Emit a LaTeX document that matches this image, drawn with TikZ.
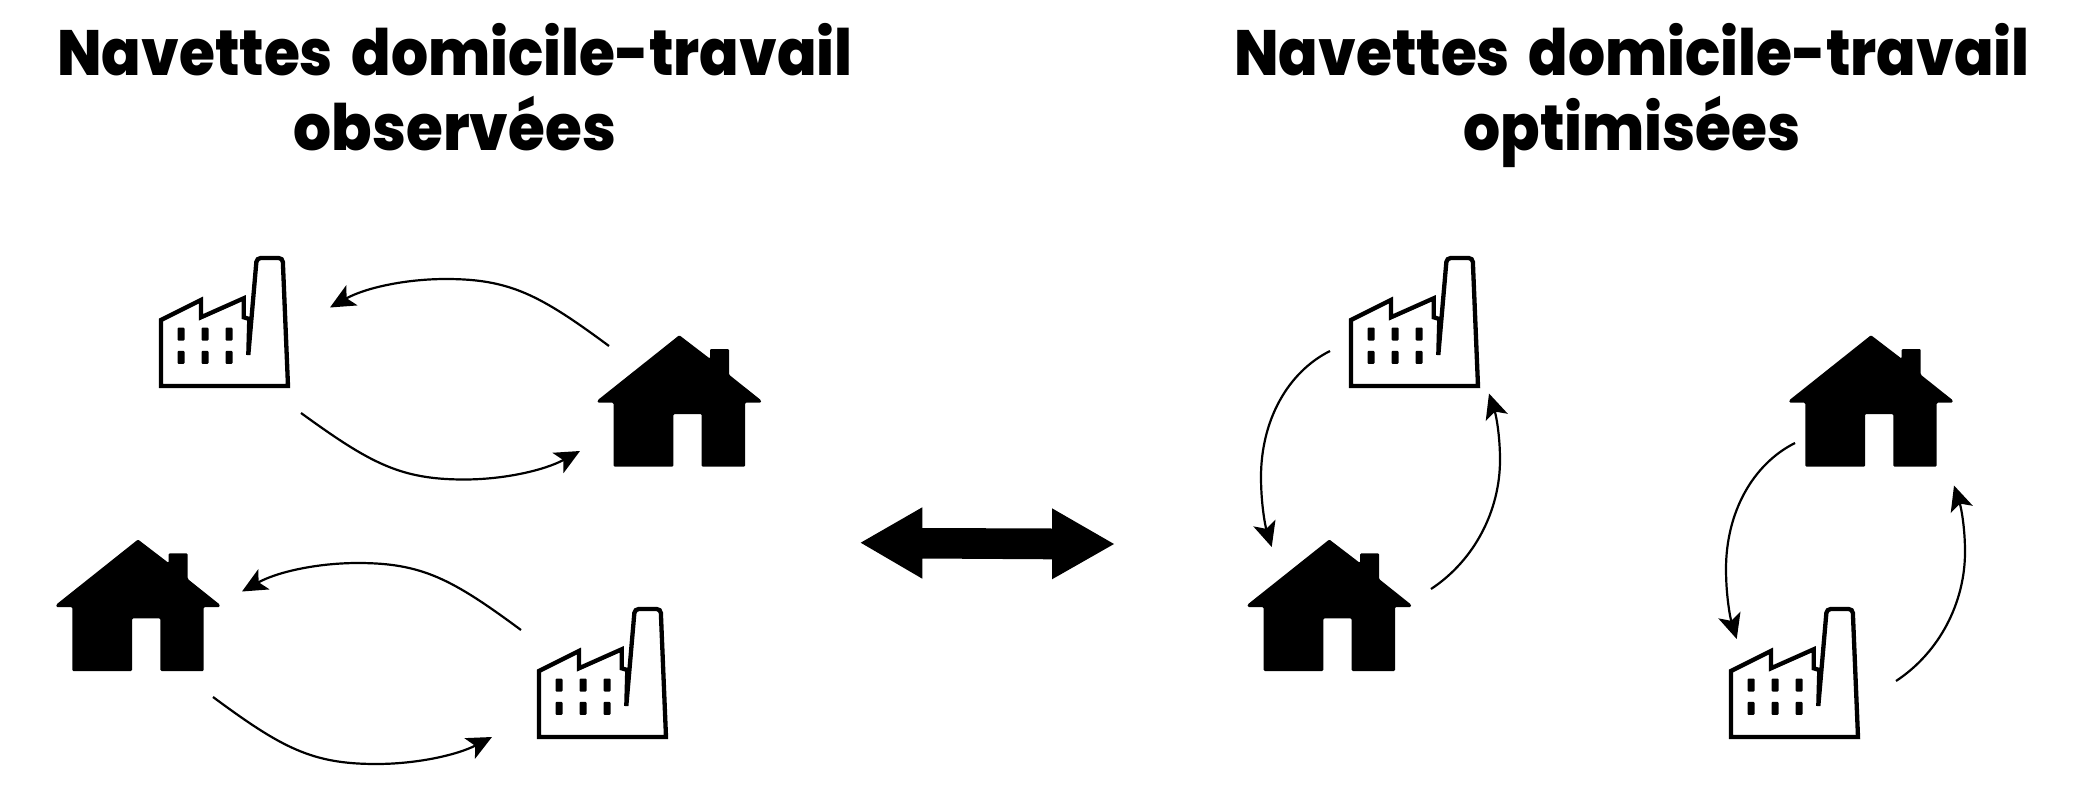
\documentclass[tikz,border=0pt]{standalone}
\usepackage{fontspec}
\setmainfont{Poppins}[BoldFont={Poppins ExtraBold},BoldFeatures={FakeStretch=0.91,WordSpace=1.7}]
\usetikzlibrary{arrows.meta}
\tikzset{
  titletext/.style={font=\fontsize{64}{75}\selectfont\bfseries, align=center, inner sep=0pt, text=black, anchor=south},
  flow/.style={draw=black, line width=2.2pt, -{Stealth[length=25pt,width=23pt,inset=6pt]}},
  pt/.style={inner sep=0pt, minimum size=0pt},
  housefill/.style={fill=black, rounded corners=1.2pt},
  factoryline/.style={draw=black, line width=4.3pt, fill=white, line join=miter},
  windowfill/.style={fill=black, rounded corners=1pt},
}
\newcommand{\drawhouse}[3]{%
  \node[pt] (#3) at (#1,#2) {};
  \begin{scope}[shift={(#1,#2)}]
    \fill[housefill] (0,-131.5) -- (30.7,-108) -- (30.7,-117.7) -- (49.7,-117.7) -- (49.7,-92) -- (81.7,-66.5) -- (81.7,-64) -- (65.7,-64) -- (65.7,0) -- (22.4,0) -- (22.4,-52.7) -- (-6,-52.7) -- (-6,0) -- (-65.7,0) -- (-65.7,-64) -- (-81.7,-64) -- (-81.7,-66.5) -- cycle;
  \end{scope}}
\newcommand{\drawfactory}[3]{%
  \node[pt] (#3) at (#1,#2) {};
  \begin{scope}[shift={(#1,#2)}]
    \draw[factoryline] (0,-66) -- (40,-86) -- (40,-68.7) -- (82.7,-87.7) -- (82.7,-68.7) -- (88.3,-67) -- (87.3,-31)
      [rounded corners=4pt] -- (95.7,-128) -- (121.7,-128) [sharp corners] -- (127,0) -- (0,0) -- cycle;
    \foreach \wx in {20,44,68} \foreach \wy in {-52,-28.7}
      \fill[windowfill] (\wx-3.5,\wy-6.5) rectangle (\wx+3.5,\wy+6.5);
  \end{scope}}
\begin{document}
\begin{tikzpicture}[x=1pt,y=-1pt]
\useasboundingbox (0,0) rectangle (2081,792);
\node[titletext] (t1) at (455,150.5) {Navettes domicile-travail\\\smash{\scalebox{1.025}[1]{observées}}};
\node[titletext] (t2) at (1632,150.5) {Navettes domicile-travail\\\smash{optimisées}};

\drawfactory{161}{386}{f1}
\drawfactory{539}{737}{f2}
\drawfactory{1351}{386}{f3}
\drawfactory{1731}{737}{f4}
\drawhouse{679.3}{466.7}{h1}
\drawhouse{138}{671}{h2}
\drawhouse{1329.3}{671}{h3}
\drawhouse{1871}{466.7}{h4}

% arrow pair 1
\coordinate (a1) at (609,346);
\coordinate (a2) at (330,307.5);
\coordinate (a1m) at (446,279);
\draw[flow] (a1) .. controls (540,295) and (510,279) .. (a1m) .. controls (405,279) and (365,288) .. (a2);
\coordinate (b1) at (301,413);
\coordinate (b2) at (580,451);
\coordinate (b1m) at (464,479.5);
\draw[flow] (b1) .. controls (370,463) and (400,479.5) .. (b1m) .. controls (505,479.5) and (545,470) .. (b2);
% arrow pair 2
\coordinate (c1) at (521,630);
\coordinate (c2) at (242,591.5);
\coordinate (c1m) at (358,563);
\draw[flow] (c1) .. controls (452,579) and (422,563) .. (c1m) .. controls (317,563) and (277,572) .. (c2);
\coordinate (d1) at (213,697);
\coordinate (d2) at (492,737);
\coordinate (d1m) at (376,764);
\draw[flow] (d1) .. controls (282,748) and (312,764) .. (d1m) .. controls (417,764) and (457,755) .. (d2);
% right side
\coordinate (e1) at (1330,351);
\coordinate (e2) at (1271.7,547);
\coordinate (e1m) at (1261,477);
\draw[flow] (e1) .. controls (1288,372) and (1261,420) .. (e1m) .. controls (1261,503) and (1265,525) .. (e2);
\coordinate (g1) at (1431,589);
\coordinate (g2) at (1489,393.5);
\coordinate (g1m) at (1500,460);
\draw[flow] (g1) .. controls (1475,560) and (1500,510) .. (g1m) .. controls (1500,435) and (1496,415) .. (g2);
\coordinate (i1) at (1795,443);
\coordinate (i2) at (1736.7,639);
\coordinate (i1m) at (1726,569);
\draw[flow] (i1) .. controls (1753,464) and (1726,512) .. (i1m) .. controls (1726,595) and (1730,617) .. (i2);
\coordinate (j1) at (1896,681);
\coordinate (j2) at (1954,485.5);
\coordinate (j1m) at (1965,552);
\draw[flow] (j1) .. controls (1940,652) and (1965,602) .. (j1m) .. controls (1965,527) and (1961,507) .. (j2);

\fill[black] (860.7,542.7) -- (922.3,507.3) -- (922.3,528) -- (1052,528.5) -- (1052,508.3) -- (1114,544) -- (1052,579.3) -- (1052,559.3) -- (922.3,558.5) -- (922.3,578.7) -- cycle;
\end{tikzpicture}
\end{document}
